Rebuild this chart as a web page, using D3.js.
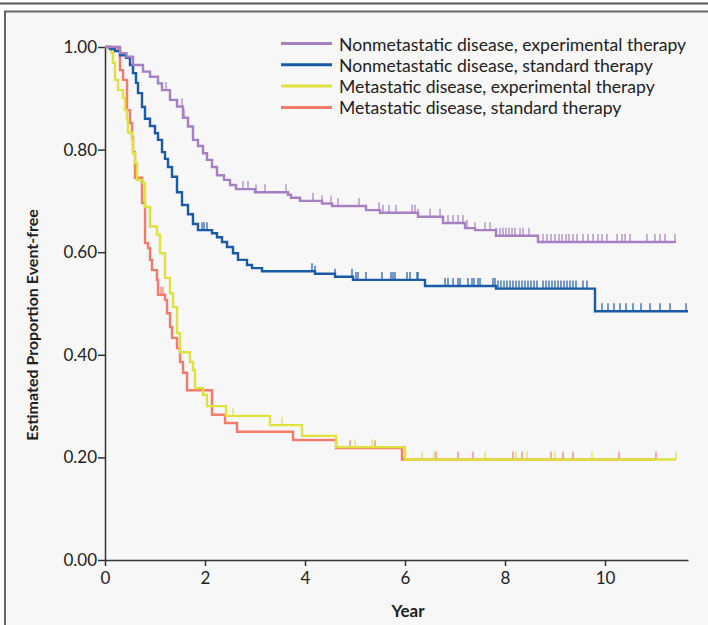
<!DOCTYPE html>
<html lang="en">
<head>
<meta charset="UTF-8">
<title>Estimated Proportion Event-free</title>
<style>
    body { margin: 0; background: #fff; }
    .tick text { font-family: Lato, "Open Sans", sans-serif; font-size: 17px; fill: #222; }
    .legend-label { font-family: Lato, "Open Sans", sans-serif; font-size: 17.6px; fill: #222; }
    .axis-title { font-family: Lato, "Open Sans", sans-serif; font-size: 16px; font-weight: bold; fill: #222; }
</style>
</head>
<body>
<div id="chart"></div>
<script src="https://d3js.org/d3.v7.min.js"></script>
<script>
    // step curves: [year, proportion after the drop]
    const nonmetExp = [
        [0, 1], [0.30, 0.988], [0.43, 0.981], [0.56, 0.965], [0.76, 0.952], [0.90, 0.942],
        [1.06, 0.929], [1.14, 0.916], [1.30, 0.897], [1.44, 0.884], [1.56, 0.862], [1.66, 0.845],
        [1.76, 0.819], [1.86, 0.807], [1.96, 0.793], [2.04, 0.780], [2.14, 0.766], [2.24, 0.750],
        [2.38, 0.741], [2.50, 0.731], [2.62, 0.723], [3.00, 0.717], [3.66, 0.712], [3.72, 0.706],
        [3.90, 0.700], [4.34, 0.695], [4.54, 0.690], [5.22, 0.682], [5.50, 0.677], [6.26, 0.669],
        [6.76, 0.657], [7.20, 0.647], [7.40, 0.643], [7.82, 0.632], [8.66, 0.620], [11.42, 0.620]
    ];
    const nonmetStd = [
        [0, 1], [0.10, 0.996], [0.20, 0.992], [0.30, 0.984], [0.42, 0.979], [0.50, 0.965],
        [0.56, 0.949], [0.62, 0.930], [0.66, 0.910], [0.74, 0.883], [0.80, 0.860], [0.90, 0.846],
        [1.00, 0.832], [1.06, 0.819], [1.14, 0.795], [1.20, 0.782], [1.26, 0.766], [1.34, 0.747],
        [1.44, 0.717], [1.54, 0.692], [1.66, 0.674], [1.76, 0.655], [1.86, 0.643], [2.14, 0.637],
        [2.24, 0.629], [2.34, 0.620], [2.44, 0.610], [2.56, 0.598], [2.66, 0.585], [2.84, 0.575],
        [2.94, 0.569], [3.14, 0.563], [4.20, 0.558], [4.60, 0.552], [4.96, 0.546], [6.40, 0.534],
        [7.82, 0.529], [9.80, 0.485], [11.66, 0.485]
    ];
    const metExp = [
        [0, 1], [0.13, 0.988], [0.16, 0.969], [0.20, 0.936], [0.26, 0.916], [0.36, 0.901],
        [0.40, 0.877], [0.44, 0.858], [0.46, 0.833], [0.54, 0.819], [0.56, 0.793], [0.60, 0.774],
        [0.64, 0.741], [0.76, 0.735], [0.80, 0.688], [0.90, 0.650], [1.04, 0.634], [1.10, 0.598],
        [1.20, 0.550], [1.30, 0.520], [1.36, 0.493], [1.44, 0.442], [1.50, 0.405], [1.70, 0.386],
        [1.76, 0.370], [1.80, 0.335], [1.96, 0.322], [2.04, 0.300], [2.42, 0.281], [3.30, 0.263],
        [3.94, 0.242], [4.62, 0.220], [6.00, 0.196], [11.42, 0.196]
    ];
    const metStd = [
        [0, 1], [0.26, 0.994], [0.30, 0.955], [0.36, 0.936], [0.44, 0.877], [0.50, 0.852],
        [0.54, 0.825], [0.56, 0.795], [0.60, 0.745], [0.74, 0.696], [0.80, 0.618], [0.86, 0.608],
        [0.90, 0.585], [0.94, 0.565], [1.04, 0.546], [1.06, 0.517], [1.20, 0.507], [1.24, 0.481],
        [1.30, 0.454], [1.34, 0.433], [1.44, 0.413], [1.50, 0.386], [1.56, 0.365], [1.64, 0.331],
        [2.14, 0.283], [2.40, 0.267], [2.64, 0.250], [3.76, 0.234], [4.62, 0.218], [5.94, 0.196],
        [11.02, 0.196]
    ];

    // censoring times (years)
    const nonmetExpCens = [1.22, 1.54, 1.58, 2.76, 2.86, 3.02, 3.20, 3.62, 4.16, 4.34, 4.52, 4.66,
        5.08, 5.48, 5.56, 5.68, 5.82, 6.14, 6.20, 6.26, 6.50, 6.70, 6.86, 6.96, 7.06, 7.16, 7.24,
        7.40, 7.60, 7.70, 7.82, 7.90, 7.96, 8.02, 8.08, 8.14, 8.20, 8.30, 8.36, 8.48, 8.76, 8.84,
        8.92, 9.00, 9.08, 9.14, 9.22, 9.28, 9.36, 9.44, 9.56, 9.66, 9.76, 9.86, 9.94, 10.04, 10.24,
        10.34, 10.40, 10.50, 10.84, 11.00, 11.10, 11.20, 11.40];
    const nonmetStdCens = [1.14, 1.94, 1.98, 2.04, 4.14, 4.20, 4.60, 4.94, 5.02, 5.06, 5.22, 5.54,
        5.72, 5.76, 5.80, 6.04, 6.10, 6.24, 6.26, 6.80, 6.86, 6.96, 7.06, 7.10, 7.26, 7.34, 7.38,
        7.46, 7.50, 7.76, 7.80, 7.86, 7.92, 7.98, 8.04, 8.10, 8.16, 8.22, 8.28, 8.34, 8.40, 8.46,
        8.52, 8.58, 8.64, 8.76, 8.82, 8.88, 8.94, 9.00, 9.06, 9.12, 9.18, 9.24, 9.30, 9.36, 9.42,
        9.56, 9.64, 9.94, 10.06, 10.18, 10.30, 10.42, 10.56, 10.72, 10.90, 11.10, 11.30, 11.62];
    const metExpCens = [2.56, 3.54, 5.00, 5.34, 6.34, 6.58, 7.60, 8.22, 8.44, 9.00, 9.74, 11.42];
    const metStdCens = [1.12, 1.16, 4.90, 5.40, 6.62, 7.06, 7.36, 8.16, 8.34, 8.92, 9.16, 9.36,
        10.28, 11.02];

    const seriesNames = [
        "Nonmetastatic disease, experimental therapy",
        "Nonmetastatic disease, standard therapy",
        "Metastatic disease, experimental therapy",
        "Metastatic disease, standard therapy"
    ];
    const seriesColors = ["#a77fc3", "#1a5ba8", "#dfe23c", "#f47b6c"];
    const yTicks = [0, 0.2, 0.4, 0.6, 0.8, 1.0];
    const xTicks = [0, 2, 4, 6, 8, 10];

    const series = [
        { name: seriesNames[0], color: seriesColors[0], steps: nonmetExp, cens: nonmetExpCens },
        { name: seriesNames[1], color: seriesColors[1], steps: nonmetStd, cens: nonmetStdCens },
        { name: seriesNames[2], color: seriesColors[2], steps: metExp, cens: metExpCens },
        { name: seriesNames[3], color: seriesColors[3], steps: metStd, cens: metStdCens }
    ];

    const W = 708, H = 625;
    const svg = d3.select("#chart").append("svg")
        .attr("width", W)
        .attr("height", H);

    // page frame
    svg.append("line")
        .attr("x1", 0).attr("x2", W).attr("y1", 3.5).attr("y2", 3.5)
        .attr("stroke", "#555").attr("stroke-width", 2);
    svg.append("rect")
        .attr("x", 5).attr("y", 11.5).attr("width", W + 10).attr("height", H)
        .attr("fill", "#f7f7f7").attr("stroke", "#666").attr("stroke-width", 2);

    const x = d3.scaleLinear().domain([0, 11.66]).range([105, 688]);
    const y = d3.scaleLinear().domain([0, 1]).range([560, 47]);

    const xAxis = svg.append("g")
        .attr("transform", `translate(0,${y(0)})`)
        .call(d3.axisBottom(x).tickValues(xTicks).tickFormat(d3.format("d")).tickSize(6).tickSizeOuter(0));
    const yAxis = svg.append("g")
        .attr("transform", `translate(${x(0)},0)`)
        .call(d3.axisLeft(y).tickValues(yTicks).tickFormat(d3.format(".2f")).tickSize(7).tickSizeOuter(0));

    [xAxis, yAxis].forEach(g => {
        g.select(".domain").attr("stroke", "#333").attr("stroke-width", 1.5);
        g.selectAll(".tick line").attr("stroke", "#333").attr("stroke-width", 1.5);
    });
    xAxis.selectAll(".tick text").attr("dy", "0.9em");
    yAxis.selectAll(".tick text").attr("x", -8);

    // value of a step curve at time t
    function valueAt(steps, t) {
        let v = steps[0][1];
        for (const s of steps) {
            if (s[0] <= t) v = s[1];
        }
        return v;
    }

    const line = d3.line()
        .x(d => x(d[0]))
        .y(d => y(d[1]))
        .curve(d3.curveStepAfter);

    const drawOrder = [3, 2, 1, 0];
    drawOrder.forEach(i => {
        const s = series[i];
        const g = svg.append("g");
        g.append("path")
            .datum(s.steps)
            .attr("fill", "none")
            .attr("stroke", s.color)
            .attr("stroke-width", 2.4)
            .attr("d", line);
        g.selectAll("line.cens")
            .data(s.cens)
            .enter()
            .append("line")
            .attr("class", "cens")
            .attr("x1", d => x(d))
            .attr("x2", d => x(d))
            .attr("y1", d => y(valueAt(s.steps, d)))
            .attr("y2", d => y(valueAt(s.steps, d)) - 8)
            .attr("stroke", s.color)
            .attr("stroke-width", 1.4)
            .attr("opacity", 0.85);
    });

    // legend
    const legend = svg.append("g");
    series.forEach((s, i) => {
        const ly = 43.5 + i * 21.3;
        legend.append("line")
            .attr("x1", 281).attr("x2", 332)
            .attr("y1", ly).attr("y2", ly)
            .attr("stroke", s.color)
            .attr("stroke-width", 3);
        legend.append("text")
            .attr("class", "legend-label")
            .attr("x", 339)
            .attr("y", ly + 7)
            .text(s.name);
    });

    svg.append("text")
        .attr("class", "axis-title")
        .attr("text-anchor", "middle")
        .attr("x", 408)
        .attr("y", 617)
        .attr("font-size", "17px")
        .style("font-size", "17px")
        .text("Year");

    svg.append("text")
        .attr("class", "axis-title")
        .attr("text-anchor", "middle")
        .attr("transform", "rotate(-90)")
        .attr("x", -325)
        .attr("y", 38)
        .text("Estimated Proportion Event-free");
</script>
</body>
</html>
